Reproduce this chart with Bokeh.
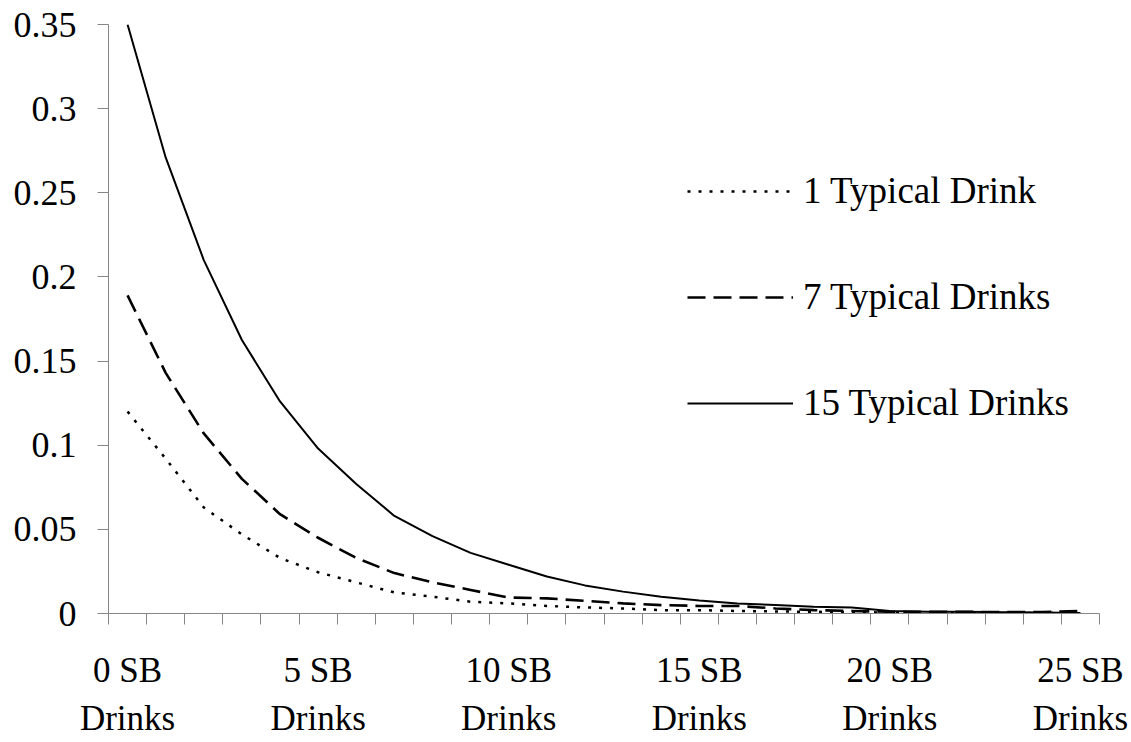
from bokeh.plotting import figure
from bokeh.models import Range1d, FixedTicker, Legend, LegendItem
from bokeh.embed import file_html
from bokeh.resources import INLINE

# ---- data ----
sb_drinks = [0, 1, 2, 3, 4, 5, 6, 7, 8, 9, 10, 11, 12, 13, 14, 15, 16, 17, 18, 19, 20, 21, 22, 23, 24, 25]
one_typical = [0.120, 0.092, 0.063, 0.047, 0.033, 0.0245, 0.0185, 0.0125, 0.010, 0.007, 0.006, 0.0045, 0.0036,
               0.003, 0.002, 0.002, 0.0015, 0.0012, 0.001, 0.0008, 0.0006, 0.0005, 0.0004, 0.0003, 0.0003, 0.0002]
seven_typical = [0.189, 0.143, 0.107, 0.080, 0.059, 0.045, 0.033, 0.024, 0.0185, 0.014, 0.0095, 0.009, 0.0075,
                 0.006, 0.005, 0.0045, 0.0045, 0.003, 0.002, 0.0015, 0.001, 0.001, 0.001, 0.0008, 0.0008, 0.0015]
fifteen_typical = [0.350, 0.271, 0.210, 0.1625, 0.126, 0.098, 0.077, 0.058, 0.046, 0.036, 0.029, 0.022, 0.0167,
                   0.013, 0.010, 0.0077, 0.006, 0.005, 0.004, 0.0035, 0.0015, 0.001, 0.001, 0.0008, 0.0006, 0.0003]
series_names = ["1 Typical Drink", "7 Typical Drinks", "15 Typical Drinks"]
label_positions = [0, 5, 10, 15, 20, 25]
x_tick_labels = ["0 SB\nDrinks", "5 SB\nDrinks", "10 SB\nDrinks", "15 SB\nDrinks", "20 SB\nDrinks", "25 SB\nDrinks"]
y_ticks = [0, 0.05, 0.1, 0.15, 0.2, 0.25, 0.3, 0.35]
y_tick_labels = ["0", "0.05", "0.1", "0.15", "0.2", "0.25", "0.3", "0.35"]

FONT = "Liberation Serif"
AXIS_GRAY = "#868686"

p = figure(width=1131, height=742, output_backend="svg", toolbar_location=None,
           x_range=Range1d(-0.5, len(sb_drinks) - 0.5), y_range=Range1d(0, 0.35),
           min_border_left=108, min_border_top=24, min_border_right=32, min_border_bottom=129)
p.outline_line_color = None
p.xgrid.visible = False
p.ygrid.visible = False
p.background_fill_color = "white"
p.border_fill_color = "white"

# lines
r1 = p.line(sb_drinks, one_typical, line_color="black", line_width=2.5, line_dash="3 8")
r7 = p.line(sb_drinks, seven_typical, line_color="black", line_width=2.6, line_dash="18 8")
r15 = p.line(sb_drinks, fifteen_typical, line_color="black", line_width=2)

# y axis
ya = p.yaxis[0]
ya.ticker = FixedTicker(ticks=y_ticks)
ya.major_label_overrides = {t: l for t, l in zip(y_ticks, y_tick_labels)}
ya.axis_line_color = AXIS_GRAY
ya.major_tick_line_color = AXIS_GRAY
ya.major_tick_out = 11
ya.major_tick_in = 0
ya.minor_tick_line_color = None
ya.major_label_text_font = FONT
ya.major_label_text_font_size = "36px"
ya.major_label_text_color = "black"
ya.major_label_standoff = 21

# x axis: labels at category centres, tick marks between categories
boundaries = [i - 0.5 for i in sb_drinks] + [sb_drinks[-1] + 0.5]
xa = p.xaxis[0]
xa.ticker = FixedTicker(ticks=label_positions, minor_ticks=boundaries)
xa.major_label_overrides = {t: l for t, l in zip(label_positions, x_tick_labels)}
xa.axis_line_color = AXIS_GRAY
xa.major_tick_line_color = None
xa.major_tick_out = 11
xa.major_tick_in = 0
xa.minor_tick_line_color = AXIS_GRAY
xa.minor_tick_out = 11
xa.minor_tick_in = 0
xa.major_label_text_font = FONT
xa.major_label_text_font_size = "35px"
xa.major_label_text_color = "black"
xa.major_label_text_line_height = 1.25
xa.major_label_standoff = 26

legend = Legend(items=[LegendItem(label=series_names[0], renderers=[r1]),
                       LegendItem(label=series_names[1], renderers=[r7]),
                       LegendItem(label=series_names[2], renderers=[r15])],
                location=(579, 189), orientation="vertical")
legend.label_text_font = FONT
legend.label_text_font_size = "37px"
legend.label_text_color = "black"
legend.glyph_width = 106
legend.glyph_height = 20
legend.label_height = 40
legend.spacing = 63
legend.padding = 0
legend.margin = 0
legend.label_standoff = 10
legend.border_line_color = None
legend.background_fill_alpha = 0
p.add_layout(legend, "center")

open("out.html", "w").write(file_html(p, INLINE))
